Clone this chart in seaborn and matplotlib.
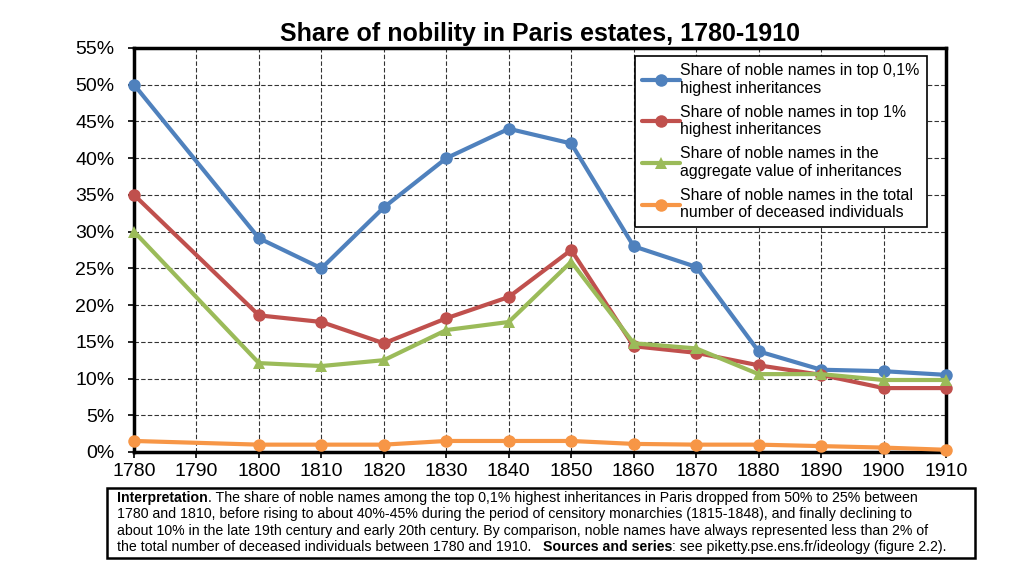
import pandas as pd
import matplotlib.pyplot as plt
import matplotlib.ticker as mticker
from matplotlib.patches import Rectangle
import seaborn as sns

# --- dados ---
anos = [1780, 1800, 1810, 1820, 1830, 1840, 1850, 1860, 1870, 1880, 1890, 1900, 1910]
top_01 = [50.0, 29.1, 25.0, 33.3, 40.0, 44.0, 42.0, 28.0, 25.2, 13.7, 11.2, 11.0, 10.5]
top_1 = [35.0, 18.6, 17.7, 14.8, 18.2, 21.1, 27.5, 14.4, 13.5, 11.8, 10.5, 8.7, 8.7]
agregado = [30.0, 12.1, 11.7, 12.5, 16.6, 17.7, 25.9, 14.8, 14.1, 10.6, 10.6, 9.8, 9.8]
falecidos = [1.5, 1.0, 1.0, 1.0, 1.5, 1.5, 1.5, 1.1, 1.0, 1.0, 0.8, 0.6, 0.3]

rotulos = [
    "Share of noble names in top 0,1%\nhighest inheritances",
    "Share of noble names in top 1%\nhighest inheritances",
    "Share of noble names in the\naggregate value of inheritances",
    "Share of noble names in the total\nnumber of deceased individuals",
]
cores = ["#4F81BD", "#C0504D", "#9BBB59", "#F79646"]
marcadores = ["o", "o", "^", "o"]

sns.set_style("white")
plt.rcParams['font.family'] = ['Liberation Sans', 'DejaVu Sans']
plt.rcParams['text.color'] = 'black'
plt.rcParams['xtick.color'] = 'black'
plt.rcParams['ytick.color'] = 'black'

fig = plt.figure(figsize=(10.24, 5.76), dpi=100)
ax = fig.add_axes([0.1309, 0.2153, 0.7929, 0.7014])

series = [top_01, top_1, agregado, falecidos]
for valores, rot, cor, mk in zip(series, rotulos, cores, marcadores):
    df = pd.DataFrame({'ano': anos, 'valor': valores})
    sns.lineplot(data=df, x='ano', y='valor', ax=ax, color=cor, marker=mk,
                 markersize=9, markeredgewidth=0, linewidth=3, label=rot,
                 clip_on=False, zorder=3)

ax.set_xlim(1780, 1910)
ax.set_ylim(0, 55)
ax.set_xticks(range(1780, 1911, 10))
ax.set_yticks(range(0, 56, 5))
ax.yaxis.set_major_formatter(mticker.FuncFormatter(lambda v, p: f"{int(v)}%"))
ax.tick_params(labelsize=14, length=4, width=1.2, direction='out',
               bottom=True, left=True)
ax.tick_params(axis='y', pad=10)
ax.tick_params(axis='x', pad=4)
ax.set_xlabel("")
ax.set_ylabel("")
ax.grid(True, color='black', linestyle=(0, (4, 2)), linewidth=0.8, alpha=0.8)
for s in ax.spines.values():
    s.set_visible(True)
    s.set_color('black')
    s.set_linewidth(2.5)

ax.set_title("Share of nobility in Paris estates, 1780-1910", fontsize=18,
             fontweight='bold', pad=5, color='black')

leg = ax.legend(loc='upper right', bbox_to_anchor=(0.9766, 0.98), fontsize=11.4,
                frameon=True, fancybox=False, handlelength=2.4, handletextpad=0.05,
                borderpad=0.45, labelspacing=0.58, borderaxespad=0.0)
leg.get_frame().set_edgecolor('black')
leg.get_frame().set_linewidth(1.2)
leg.get_frame().set_alpha(1)

# --- caixa de interpretação ---
fig.patches.append(Rectangle((107 / 1024, 1 - 558 / 576), 868 / 1024, 70 / 576,
                             transform=fig.transFigure, fill=False,
                             edgecolor='black', linewidth=1.8))

fam = ['Liberation Sans Narrow', 'Liberation Sans', 'DejaVu Sans']
tam = 10.2
x0 = 117 / 1024
linhas_y = [498, 514, 531, 547]
renderer = fig.canvas.get_renderer()


def texto_misto(partes, y):
    x = x0
    for txt, peso in partes:
        t = fig.text(x, 1 - y / 576, txt, fontsize=tam, family=fam,
                     fontweight=peso, va='center', ha='left')
        w = t.get_window_extent(renderer=renderer).width
        x += w / 1024


texto_misto([("Interpretation", 'bold'),
             (". The share of noble names among the top 0,1% highest inheritances in Paris dropped from 50% to 25% between", 'normal')],
            linhas_y[0])
texto_misto([("1780 and 1810, before rising to about 40%-45% during the period of censitory monarchies (1815-1848), and finally declining to", 'normal')],
            linhas_y[1])
texto_misto([("about 10% in the late 19th century and early 20th century. By comparison, noble names have always represented less than 2% of", 'normal')],
            linhas_y[2])
texto_misto([("the total number of deceased individuals between 1780 and 1910.   ", 'normal'),
             ("Sources and series", 'bold'),
             (": see piketty.pse.ens.fr/ideology (figure 2.2).", 'normal')],
            linhas_y[3])

plt.savefig('out.png', dpi=100)
